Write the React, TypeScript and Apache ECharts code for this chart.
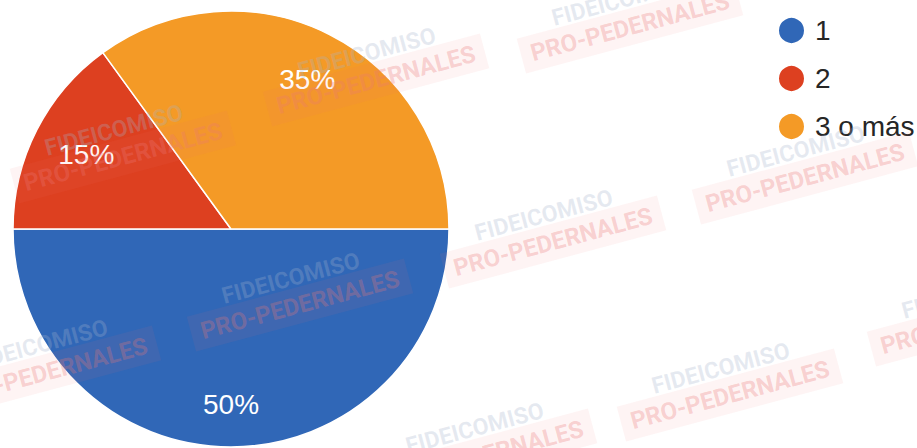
import React, { useEffect, useRef } from "react";
import * as echarts from "echarts";

const categories = ["1", "2", "3 o más"];
const percentages = [50, 15, 35];
const sliceColors = ["#3067b7", "#dd4020", "#f49a26"];
const watermarkTop = "FIDEICOMISO";
const watermarkBottom = "PRO-PEDERNALES";
const watermarkSpots: [number, number][] = [
  [630, 27], [376, 80], [123, 157], [553, 242], [805, 178],
  [300, 305], [48, 372], [730, 395], [484, 455], [980, 320],
];
const labelOffsets: [number, number][] = [[0, 7], [5, 2], [0, 0]];

export default function App() {
  const ref = useRef<HTMLDivElement>(null);
  useEffect(() => {
    if (!ref.current) return;
    const chart = echarts.init(ref.current, undefined, { renderer: "svg" });
    const rot = (15 * Math.PI) / 180;
    chart.setOption({
      animation: false,
      backgroundColor: "#ffffff",
      color: sliceColors,
      legend: {
        orient: "vertical",
        left: 772,
        top: 11,
        icon: "circle",
        itemWidth: 27,
        itemHeight: 27,
        itemGap: 19,
        data: categories,
        textStyle: {
          fontFamily: "Liberation Sans, Arial, sans-serif",
          fontSize: 28,
          lineHeight: 27,
          color: "#262626",
          padding: [0, 0, 0, 5],
        },
      },
      series: [
        {
          type: "pie",
          center: [231, 229],
          radius: [0, 218],
          startAngle: 0,
          clockwise: true,
          label: { show: false },
          labelLine: { show: false },
          itemStyle: { borderColor: "#ffffff", borderWidth: 1.5 },
          emphasis: { disabled: true },
          data: categories.map((name, i) => ({ name, value: percentages[i] })),
        },
        {
          type: "pie",
          center: [231, 229],
          radius: [140, 190],
          startAngle: 0,
          clockwise: true,
          silent: true,
          z: 3,
          itemStyle: { color: "rgba(0,0,0,0)" },
          labelLine: { show: false },
          emphasis: { disabled: true },
          label: {
            show: true,
            position: "inside",
            formatter: "{c}%",
            color: "#ffffff",
            fontSize: 28,
            fontFamily: "Liberation Sans, Arial, sans-serif",
            textBorderWidth: 0,
          },
          data: categories.map((name, i) => ({
            name,
            value: percentages[i],
            label: { offset: labelOffsets[i] },
          })),
        },
      ],
      graphic: watermarkSpots.map(([x, y]) => ({
        type: "group",
        x,
        y,
        rotation: rot,
        z: 100,
        silent: true,
        children: [
          {
            type: "text",
            x: 0,
            y: 0,
            z: 100,
            style: {
              text: watermarkBottom,
              font: "bold 24px Roboto, sans-serif",
              fill: "rgba(235,120,120,0.3)",
              align: "center",
              verticalAlign: "middle",
              textAlign: "center",
              textVerticalAlign: "middle",
              backgroundColor: "rgba(240,110,110,0.08)",
              padding: [6, 10],
            },
          },
          {
            type: "text",
            x: -2,
            y: -28,
            z: 100,
            style: {
              text: watermarkTop,
              font: "bold 23px Roboto, sans-serif",
              fill: "rgba(165,180,205,0.28)",
              align: "center",
              verticalAlign: "middle",
              textAlign: "center",
              textVerticalAlign: "middle",
            },
          },
        ],
      })),
    });
    return () => chart.dispose();
  }, []);
  return (
    <div
      ref={ref}
      style={{ position: "fixed", left: 0, top: 0, width: 917, height: 448 }}
    />
  );
}
